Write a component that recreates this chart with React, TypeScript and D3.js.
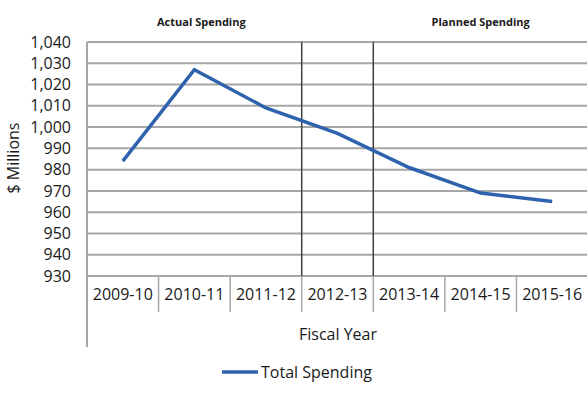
import React, { useEffect, useRef } from 'react';
import * as d3 from 'd3';

// Fiscal years and total spending ($ millions)
const years = ['2009-10', '2010-11', '2011-12', '2012-13', '2013-14', '2014-15', '2015-16'];
const spending = [984, 1027, 1009, 997, 981, 969, 965];
const yTicks = [930, 940, 950, 960, 970, 980, 990, 1000, 1010, 1020, 1030, 1040];
const periods = [
  { label: 'Actual Spending', from: '2009-10', to: '2011-12' },
  { label: 'Planned Spending', from: '2013-14', to: '2015-16' },
];
const dividers = ['2012-13', '2013-14'];

const App = () => {
  const ref = useRef<SVGSVGElement>(null);

  useEffect(() => {
    const width = 587;
    const height = 393;
    const left = 87;
    const right = 588;
    const top = 42;
    const bottom = 276;
    const font = 'Open Sans, sans-serif';
    const periodShift = [7, 0];

    const svg = d3.select(ref.current).attr('width', width).attr('height', height);
    svg.selectAll('*').remove();
    svg.append('rect').attr('width', width).attr('height', height).attr('fill', '#fff');

    const x = d3.scaleBand().domain(years).range([left, right]);
    const y = d3.scaleLinear().domain([930, 1040]).range([bottom, top]);

    // horizontal gridlines
    svg
      .append('g')
      .selectAll('line')
      .data(yTicks)
      .join('line')
      .attr('x1', left)
      .attr('x2', right)
      .attr('y1', (d) => y(d))
      .attr('y2', (d) => y(d))
      .attr('stroke', '#a6a6a6')
      .attr('stroke-width', 2);

    // y tick labels
    svg
      .append('g')
      .selectAll('text')
      .data(yTicks)
      .join('text')
      .attr('x', 71)
      .attr('y', (d) => y(d))
      .attr('dy', '0.35em')
      .attr('text-anchor', 'end')
      .attr('font-family', font)
      .attr('font-size', 16)
      .attr('fill', '#1a1a1a')
      .text((d) => d3.format(',')(d));

    // y axis line (extends through category label area)
    svg
      .append('line')
      .attr('x1', left)
      .attr('x2', left)
      .attr('y1', top)
      .attr('y2', 347)
      .attr('stroke', '#a6a6a6')
      .attr('stroke-width', 2);

    // category separators
    svg
      .append('g')
      .selectAll('line')
      .data(years.slice(1))
      .join('line')
      .attr('x1', (d) => x(d)!)
      .attr('x2', (d) => x(d)!)
      .attr('y1', bottom)
      .attr('y2', 312)
      .attr('stroke', '#a6a6a6')
      .attr('stroke-width', 1.5);

    // category labels
    svg
      .append('g')
      .selectAll('text')
      .data(years)
      .join('text')
      .attr('x', (d) => x(d)! + x.bandwidth() / 2)
      .attr('y', 300)
      .attr('text-anchor', 'middle')
      .attr('font-family', font)
      .attr('font-size', 16)
      .attr('fill', '#1a1a1a')
      .text((d) => d);

    // actual / planned dividers
    svg
      .append('g')
      .selectAll('line')
      .data(dividers)
      .join('line')
      .attr('x1', (d) => x(d)!)
      .attr('x2', (d) => x(d)!)
      .attr('y1', top)
      .attr('y2', bottom)
      .attr('stroke', '#404040')
      .attr('stroke-width', 1.5);

    // period labels
    svg
      .append('g')
      .selectAll('text')
      .data(periods)
      .join('text')
      .attr('x', (d, i) => (x(d.from)! + x(d.to)! + x.bandwidth()) / 2 + periodShift[i])
      .attr('y', 26)
      .attr('text-anchor', 'middle')
      .attr('font-family', font)
      .attr('font-size', 11)
      .attr('font-weight', 'bold')
      .attr('fill', '#1a1a1a')
      .text((d) => d.label);

    // spending line
    const line = d3
      .line<number>()
      .x((d, i) => x(years[i])! + x.bandwidth() / 2)
      .y((d) => y(d));
    svg
      .append('path')
      .datum(spending)
      .attr('d', line)
      .attr('fill', 'none')
      .attr('stroke', '#2e62ad')
      .attr('stroke-width', 3.5);

    // axis titles
    svg
      .append('text')
      .attr('transform', 'translate(19,158) rotate(-90)')
      .attr('text-anchor', 'middle')
      .attr('font-family', font)
      .attr('font-size', 16)
      .attr('fill', '#1a1a1a')
      .text('$ Millions');
    svg
      .append('text')
      .attr('x', 338)
      .attr('y', 340)
      .attr('text-anchor', 'middle')
      .attr('font-family', font)
      .attr('font-size', 16)
      .attr('fill', '#1a1a1a')
      .text('Fiscal Year');

    // legend
    svg
      .append('line')
      .attr('x1', 222)
      .attr('x2', 258)
      .attr('y1', 372)
      .attr('y2', 372)
      .attr('stroke', '#2e62ad')
      .attr('stroke-width', 3.5);
    svg
      .append('text')
      .attr('x', 261)
      .attr('y', 372)
      .attr('dy', '0.35em')
      .attr('font-family', font)
      .attr('font-size', 16)
      .attr('fill', '#1a1a1a')
      .text('Total Spending');
  }, []);

  return (
    <svg ref={ref} style={{ position: 'absolute', left: 0, top: 0 }}></svg>
  );
};

export default App;
